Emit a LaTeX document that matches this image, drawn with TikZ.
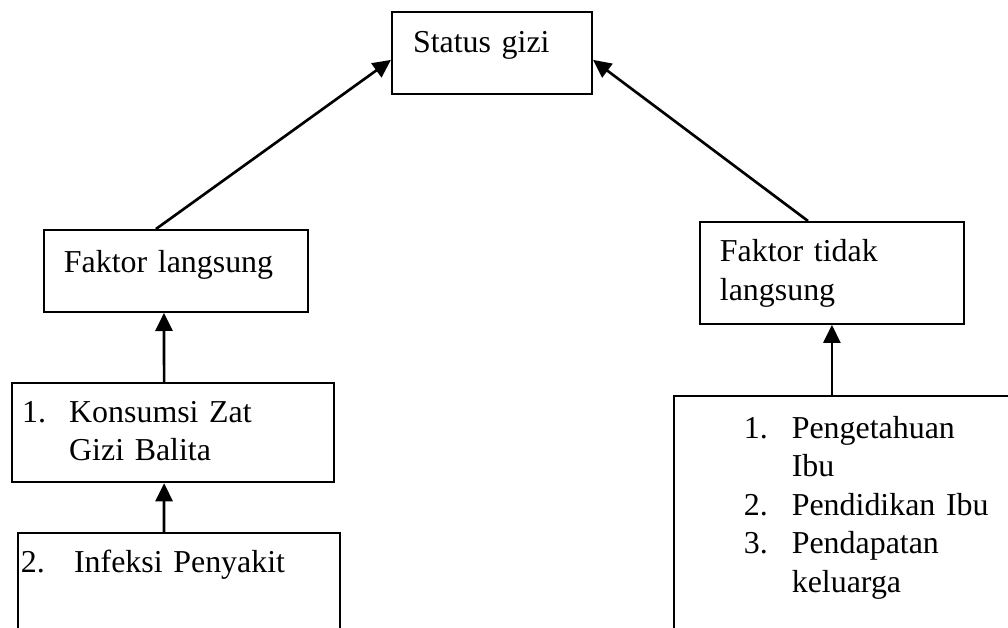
\documentclass[tikz,border=0pt]{standalone}
\usepackage{fontspec}
\setmainfont{Liberation Serif}
\usetikzlibrary{arrows.meta}

\tikzset{
  kotak/.style={draw, line width=0.75pt, rectangle, anchor=north west, inner ysep=0pt,
    align=left, font=\fontsize{12pt}{14.5pt}\selectfont},
  panah/.style={-{Triangle[length=6.8pt,width=6.4pt]}, line width=1pt}
}
\newcommand{\nomor}[2]{\makebox[#1][l]{#2}}

\begin{document}
\begin{tikzpicture}[x=0.376pt, y=-0.376pt]
  \clip (0,0) rectangle (1008,628);
  \node[kotak, inner xsep=7.9pt, text width=59.4pt, text height=15.4pt, text depth=15.4pt]
    (status) at (391,11) {Status gizi};
  \node[kotak, inner xsep=7.5pt, text width=84.2pt, text height=15.8pt, text depth=15pt]
    (langsung) at (43,229) {Faktor langsung};
  \node[kotak, inner xsep=7.5pt, text width=84.2pt, text height=15pt, text depth=23.3pt]
    (tidak) at (699,221) {Faktor tidak\\langsung};
  \node[kotak, inner xsep=3.8pt, text width=113.6pt, text height=14.7pt, text depth=22.6pt]
    (konsumsi) at (11,382) {\nomor{17.7pt}{1.}Konsumsi Zat\\\hspace*{17.7pt}Gizi Balita};
  \node[kotak, inner xsep=1.1pt, text width=118.8pt, text height=15pt, text depth=33.8pt]
    (infeksi) at (17,532) {\nomor{20pt}{2.}Infeksi Penyakit};
  \node[kotak, inner xsep=26.3pt, text width=97.8pt, text height=15.8pt, text depth=75pt]
    (faktor) at (673,395) {\nomor{18pt}{1.}Pengetahuan\\\hspace*{18pt}Ibu\\
      \nomor{18pt}{2.}Pendidikan Ibu\\\nomor{18pt}{3.}Pendapatan\\\hspace*{18pt}keluarga};

  \path[panah]
    ([xshift=-7.5pt]langsung.north) edge ([yshift=-2.6pt]status.west)
    ([xshift=-9pt]tidak.north) edge ([yshift=-2.6pt]status.east)
    ([xshift=-3.4pt]konsumsi.north) edge ([xshift=-4.5pt]langsung.south)
    ([xshift=-5.6pt]infeksi.north) edge ([xshift=-3.4pt]konsumsi.south)
    (tidak.south |- faktor.north) edge (tidak.south);
\end{tikzpicture}
\end{document}
